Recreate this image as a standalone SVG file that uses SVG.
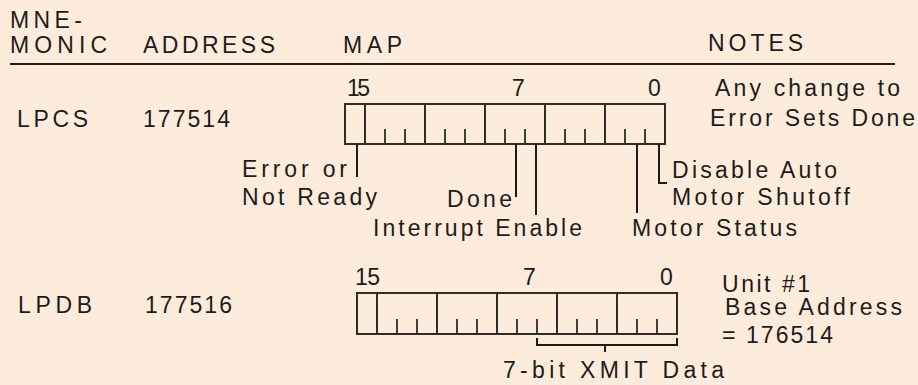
<svg xmlns="http://www.w3.org/2000/svg" width="918" height="385" viewBox="0 0 918 385">
<style>
text{font-family:"Liberation Sans",Arial,Helvetica,sans-serif;font-size:23px;fill:#1c1c1a;lengthAdjust:spacing}
.reg{fill:none;stroke:#2e2e28;stroke-width:2}
.div{stroke:#2e2e28;stroke-width:2}
.tick{stroke:#2e2e28;stroke-width:1.8}
.lead{fill:none;stroke:#1c1c1a;stroke-width:2}
</style>
<rect width="918" height="385" fill="#fdecdc"/>
<g id="header">
<text x="10" y="28" textLength="72">MNE-</text>
<text x="10" y="53" textLength="97">MONIC</text>
<text x="143" y="53" textLength="132">ADDRESS</text>
<text x="343" y="53" textLength="59">MAP</text>
<text x="708" y="51" textLength="95">NOTES</text>
<line x1="10" y1="64" x2="895" y2="64" stroke="#1c1c1a" stroke-width="2.2"/>
</g>
<g id="lpcs">
<text x="17" y="127" textLength="71">LPCS</text>
<text x="143" y="127" textLength="87">177514</text>
<text x="347" y="96" textLength="23">15</text>
<text x="512" y="96">7</text>
<text x="648" y="96">0</text>
<rect class="reg" x="345" y="104" width="320" height="40"/>
<path class="div" d="M365 104V144M425 104V144M485 104V144M545 104V144M605 104V144"/>
<path class="tick" d="M385 129V144M405 129V144M445 129V144M465 129V144M505 129V144M525 129V144M565 129V144M585 129V144M625 129V144M645 129V144"/>
<text x="715" y="96" textLength="185">Any change to</text>
<text x="710" y="126" textLength="205">Error Sets Done</text>
</g>
<g id="lpcs-labels">
<text x="242" y="177" textLength="105">Error or</text>
<text x="242" y="205" textLength="135">Not Ready</text>
<text x="447" y="207" textLength="65">Done</text>
<text x="373" y="236" textLength="209">Interrupt Enable</text>
<text x="632" y="236" textLength="165">Motor Status</text>
<text x="672" y="178" textLength="165">Disable Auto</text>
<text x="672" y="205" textLength="178">Motor Shutoff</text>
</g>
<g id="lpdb">
<text x="18" y="313" textLength="74">LPDB</text>
<text x="145" y="313" textLength="87">177516</text>
<text x="355" y="285" textLength="25">15</text>
<text x="523" y="285">7</text>
<text x="660" y="285">0</text>
<rect class="reg" x="357" y="293" width="320" height="41"/>
<path class="div" d="M377 293V334M437 293V334M497 293V334M557 293V334M617 293V334"/>
<path class="tick" d="M397 319V334M417 319V334M457 319V334M477 319V334M517 319V334M537 319V334M577 319V334M597 319V334M637 319V334M657 319V334"/>
<text x="722" y="292" textLength="88">Unit #1</text>
<text x="725" y="315" textLength="177">Base Address</text>
<text x="722" y="343" textLength="111">= 176514</text>
<text x="503" y="378" textLength="221">7-bit XMIT Data</text>
</g>
<g id="connectors">
<path class="lead" d="M357 144V177"/>
<path class="lead" d="M516 144V197"/>
<path class="lead" d="M536 144V215"/>
<path class="lead" d="M637 144V213"/>
<path class="lead" d="M659 144V183H667"/>
<path class="lead" d="M537 338V345H677V338M605 345V352"/>
</g>
</svg>
